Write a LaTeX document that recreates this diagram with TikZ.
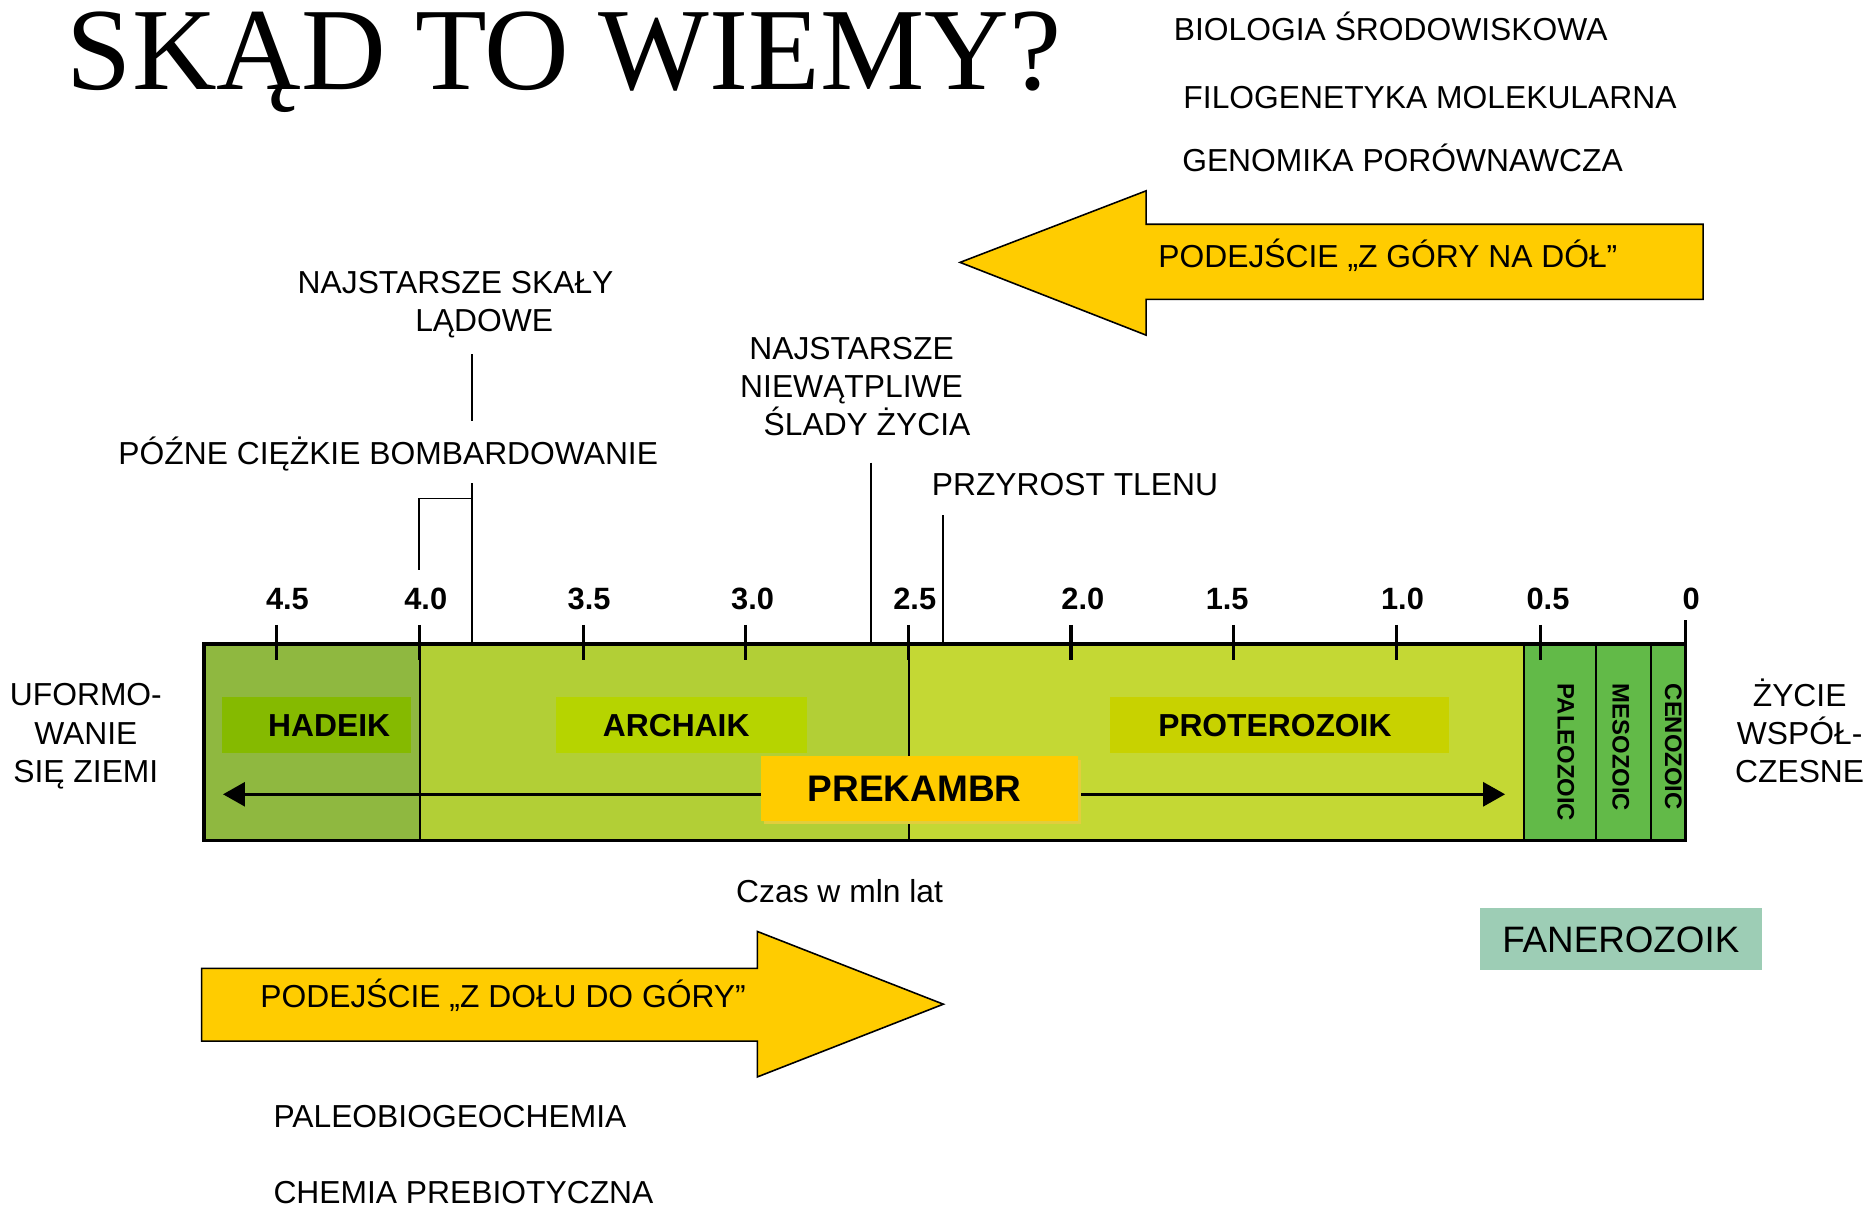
\documentclass[tikz,border=0pt]{standalone}
\usepackage{fontspec}
\setmainfont{Liberation Sans}
\newfontfamily\titlefont{Liberation Serif}
\usetikzlibrary{arrows.meta}
\definecolor{gold}{RGB}{255,204,0}
\definecolor{hadeikbg}{RGB}{143,184,64}
\definecolor{hadeikbox}{RGB}{133,186,0}
\definecolor{archbg}{RGB}{178,207,54}
\definecolor{archbox}{RGB}{182,212,0}
\definecolor{protbg}{RGB}{196,216,52}
\definecolor{protbox}{RGB}{200,210,0}
\definecolor{phanbg}{RGB}{98,186,72}
\definecolor{fanbox}{RGB}{157,205,181}
\definecolor{prekshadow}{RGB}{226,206,60}
\begin{document}
\begin{tikzpicture}[x=0.6pt,y=-0.6pt,
  lbl/.style={inner sep=0pt, font=\fontsize{16}{19.5}\selectfont},
  eralbl/.style={inner sep=0pt, font=\bfseries\fontsize{16}{19.5}\selectfont},
  ticklbl/.style={inner sep=0pt, font=\bfseries\fontsize{15.5}{15.5}\selectfont, anchor=base},
  vlbl/.style={inner sep=0pt, font=\bfseries\fontsize{12}{12}\selectfont, rotate=-90, anchor=west},
  tickline/.style={line width=1.6pt},
  marker/.style={line width=0.9pt},
  divider/.style={line width=1pt},
  bigarrow/.style={fill=gold, draw=black, line width=0.8pt, line join=miter},
]
\useasboundingbox (0,0) rectangle (1568,1013);

% title
\node[inner sep=0pt, font=\titlefont\fontsize{59}{59}\selectfont, anchor=base] (title) at (473,75) {SKĄD TO WIEMY?};

% top-right methods
\node[lbl, anchor=base west] (bio) at (984,34) {BIOLOGIA ŚRODOWISKOWA};
\node[lbl, anchor=base west] (filo) at (992,91) {FILOGENETYKA MOLEKULARNA};
\node[lbl, anchor=base west] (geno) at (991,144) {GENOMIKA PORÓWNAWCZA};

% top arrow (top-down)
\draw[bigarrow] (805,220) -- (961,160) -- (961,188) -- (1428,188) -- (1428,251) -- (961,251) -- (961,281) -- cycle;
\node[lbl, anchor=base west] (topdown) at (971,224) {PODEJŚCIE „Z GÓRY NA DÓŁ”};

% bottom arrow (bottom-up)
\draw[bigarrow] (169,812) -- (635,812) -- (635,781) -- (791,842) -- (635,903) -- (635,873) -- (169,873) -- cycle;
\node[lbl, anchor=base west] (bottomup) at (218,845) {PODEJŚCIE „Z DOŁU DO GÓRY”};

\node[lbl, anchor=base west] (paleo) at (229,945.5) {PALEOBIOGEOCHEMIA};
\node[lbl, anchor=base west] (chem) at (229,1009.5) {CHEMIA PREBIOTYCZNA};

% event labels
\node[lbl, anchor=base] (rocks1) at (382,246) {NAJSTARSZE SKAŁY};
\node[lbl, anchor=base] (rocks2) at (406,278) {LĄDOWE};
\node[lbl, anchor=base west] (lhb) at (99,389.5) {PÓŹNE CIĘŻKIE BOMBARDOWANIE};
\node[lbl, anchor=base] (life1) at (714,301.5) {NAJSTARSZE};
\node[lbl, anchor=base] (life2) at (714,333.5) {NIEWĄTPLIWE};
\node[lbl, anchor=base] (life3) at (727,365.5) {ŚLADY ŻYCIA};
\node[lbl, anchor=base west] (oxy) at (781,415.5) {PRZYROST TLENU};

% side labels
\node[lbl, anchor=base] (ea1) at (72,591.5) {UFORMO-};
\node[lbl, anchor=base] (ea2) at (72,624.5) {WANIE};
\node[lbl, anchor=base] (ea3) at (72,656.5) {SIĘ ZIEMI};
\node[lbl, anchor=base] (mo1) at (1509,592.5) {ŻYCIE};
\node[lbl, anchor=base] (mo2) at (1509,624.5) {WSPÓŁ-};
\node[lbl, anchor=base] (mo3) at (1509,656.5) {CZESNE};

% bar fills
\fill[hadeikbg] (171,540) rectangle (352,705);
\fill[archbg] (352,540) rectangle (762,705);
\fill[protbg] (762,540) rectangle (1278,705);
\fill[phanbg] (1278,540) rectangle (1413,705);

% era label boxes
\fill[hadeikbox] (186,584) rectangle (345,631);
\fill[archbox] (466,584) rectangle (677,631);
\fill[protbox] (931,584) rectangle (1215,631);
\node[eralbl, anchor=base] (hadeik) at (276,617.5) {HADEIK};
\node[eralbl, anchor=base] (archaik) at (567,617.5) {ARCHAIK};
\node[eralbl, anchor=base] (prot) at (1069,617.5) {PROTEROZOIK};

% dividers
\draw[divider] (352,540) -- (352,705);
\draw[divider] (762,540) -- (762,705);
\draw[divider] (1278,540) -- (1278,705);
\draw[divider] (1338,540) -- (1338,705);
\draw[divider] (1384,540) -- (1384,705);

% precambrian arrow
\coordinate (pl) at (187,666);
\coordinate (pr) at (1262,666);
\draw[line width=1.5pt, {Triangle[length=11pt,width=12pt]}-{Triangle[length=11pt,width=12pt]}] (pl) -- (pr);
\fill[prekshadow] (641,637) rectangle (906,691);
\fill[gold] (638,634) rectangle (904,688);
\node[inner sep=0pt, font=\bfseries\fontsize{18.6}{18.6}\selectfont, anchor=base] (prek) at (767,672) {PREKAMBR};

% phanerozoic vertical labels
\node[vlbl] (pz) at (1313,573) {PALEOZOIC};
\node[vlbl] (mz) at (1359,573) {MESOZOIC};
\node[vlbl] (cz) at (1403,573) {CENOZOIC};

% bar border
\draw[line width=1.6pt] (171,540) rectangle (1413,705);

% ticks
\foreach \x/\lx/\t in {232/241/4.5, 352/357/4.0, 489/494/3.5, 625/631/3.0, 762/767/2.5, 898/908/2.0, 1034/1029/1.5, 1171/1176/1.0, 1292/1298/0.5}{
  \draw[tickline] (\x,524) -- (\x,553);
  \node[ticklbl] at (\lx,511) {\t};
}
\draw[tickline] (1413,520) -- (1413,540);
\node[ticklbl] (t0) at (1418,511) {0};

% event markers
\coordinate (r1) at (396,297); \coordinate (r2) at (396,353);
\draw[marker] (r1) -- (r2);
\coordinate (b1) at (396,405); \coordinate (b2) at (396,540);
\draw[marker] (b1) -- (b2);
\coordinate (k1) at (396,418); \coordinate (k2) at (351,418); \coordinate (k3) at (351,478);
\draw[marker] (k1) -- (k2) -- (k3);
\coordinate (s1) at (730,388); \coordinate (s2) at (730,540);
\draw[marker] (s1) -- (s2);
\coordinate (o1) at (791,432); \coordinate (o2) at (791,540);
\draw[marker] (o1) -- (o2);

% time axis caption
\node[lbl, anchor=base] (czas) at (704,756.5) {Czas w mln lat};

% fanerozoik box
\fill[fanbox] (1241,761) rectangle (1477,813);
\node[inner sep=0pt, font=\fontsize{18.5}{18.5}\selectfont] (fan) at (1359,788) {FANEROZOIK};
\end{tikzpicture}
\end{document}
